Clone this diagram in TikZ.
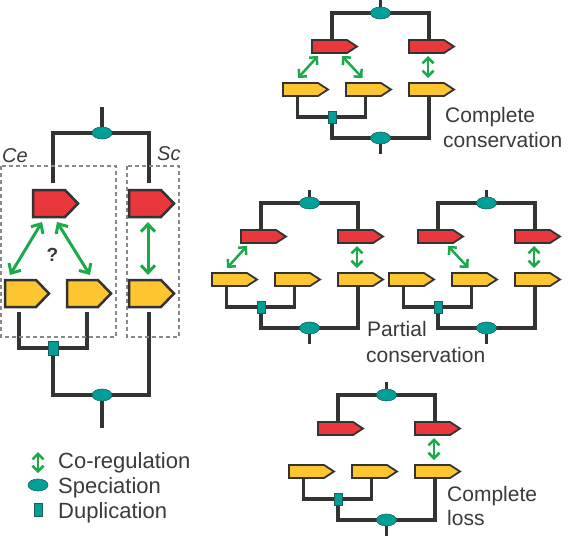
\documentclass[tikz,border=0pt]{standalone}
\usepackage{fontspec}
\setmainfont{Liberation Sans}
\usetikzlibrary{arrows.meta,backgrounds,shapes.geometric}
\definecolor{lc}{HTML}{333333}
\definecolor{redc}{HTML}{E8383C}
\definecolor{yelc}{HTML}{FDC530}
\definecolor{tealc}{HTML}{00A098}
\definecolor{tealdk}{HTML}{1D5E5A}
\definecolor{greenc}{HTML}{1BAA4A}
\definecolor{dashc}{HTML}{888888}
\definecolor{txtc}{HTML}{3A3A3A}
\tikzset{
  tl/.style={draw=lc, line width=3.3pt, line join=miter, line cap=butt},
  tlb/.style={draw=lc, line width=4.6pt, line join=miter, line cap=butt},
  pentline/.style={line width=1.8pt},
  spec/.style={ellipse, fill=tealc, draw=tealdk, line width=0.6pt, minimum width=20pt, minimum height=12pt, inner sep=0pt},
  dup/.style={rectangle, fill=tealc, draw=tealdk, line width=0.6pt, minimum width=8pt, minimum height=12pt, inner sep=0pt},
  garr/.style={draw=greenc, line width=2.5pt, {Straight Barb[length=5.5pt,width=11pt]}-{Straight Barb[length=5.5pt,width=11pt]}},
  garrb/.style={draw=greenc, line width=3pt, {Straight Barb[length=7.5pt,width=14pt]}-{Straight Barb[length=7.5pt,width=14pt]}},
  dbox/.style={draw=dashc, line width=1.3pt, dash pattern=on 4pt off 3pt},
  lab/.style={text=txtc, inner sep=0pt, anchor=base west, font=\fontsize{21}{24}\selectfont},
}
\newcommand\mypent[7]{%
  \node[inner sep=0pt, outer sep=0pt, minimum width=#5pt, minimum height=#6pt, anchor=west] (#1) at ({#3},{#4}) {};
  \filldraw[fill=#2, draw=lc, line join=miter, pentline] (#1.north west) -- ([xshift=-#7pt]#1.north east) -- (#1.east) -- ([xshift=-#7pt]#1.south east) -- (#1.south west) -- cycle;
}
\newcommand\smalltree[3]{%
  \node[spec] (#1s) at ({#2+68.5},{#3}) {};
  \coordinate (#1top) at ({#2+68.5},{#3-13});
  \mypent{#1r1}{redc}{#2}{#3+33.5}{45}{13}{10}
  \mypent{#1r2}{redc}{#2+97}{#3+33.5}{45}{13}{10}
  \mypent{#1y1}{yelc}{#2-29}{#3+76.5}{45}{13}{10}
  \mypent{#1y2}{yelc}{#2+34}{#3+76.5}{45}{13}{10}
  \mypent{#1y3}{yelc}{#2+97}{#3+76.5}{45}{13}{10}
  \node[dup] (#1d) at ({#2+20},{#3+104}) {};
  \node[spec] (#1b) at ({#2+68.5},{#3+125}) {};
  \coordinate (#1bot) at ({#2+68.5},{#3+141});
  \begin{scope}[on background layer]
    \draw[tl] ([xshift=-2.5pt]#1r1.north) |- (#1s.center) -| ([xshift=-2.5pt]#1r2.north);
    \draw[tl] (#1top) -- (#1s.center);
    \draw[tl] ([xshift=-8pt]#1y1.south) |- (#1d.center) -| ([xshift=-3pt]#1y2.south);
    \draw[tl] (#1d.center) |- (#1b.center) -| ([xshift=-2.5pt]#1y3.south);
    \draw[tl] (#1b.center) -- (#1bot);
  \end{scope}
}
\newcommand\arrA[1]{\draw[garr] ([shift={(-16.5,3)}]#1r1.south) -- ([shift={(-7.5,-5)}]#1y1.north);}
\newcommand\arrB[1]{\draw[garr] ([shift={(7.5,3)}]#1r1.south) -- ([shift={(-6,-5)}]#1y2.north);}
\newcommand\arrC[1]{\draw[garr] ([shift={(-3.5,3)}]#1r2.south) -- ([shift={(-3.5,-5)}]#1y3.north);}
\begin{document}
\begin{tikzpicture}[x=1pt,y=-1pt]
\useasboundingbox (0,0) rectangle (570,536);

% dashed boxes
\draw[dbox] (1,166) rectangle (116,337);
\draw[dbox] (127,166) rectangle (179,337);

% big tree
\begin{scope}[pentline/.style={line width=2.5pt}]
\node[spec] (Ls) at (102,133) {};
\coordinate (Ltop) at (102,107);
\mypent{Lr1}{redc}{33}{203.5}{45}{27}{13}
\mypent{Lr2}{redc}{129}{203.5}{45}{27}{13}
\mypent{Ly1}{yelc}{5}{293.5}{44}{27}{13}
\mypent{Ly2}{yelc}{67}{293.5}{44}{27}{13}
\mypent{Ly3}{yelc}{129}{293.5}{45}{27}{13}
\node[dup, minimum width=10pt, minimum height=14pt] (Ld) at (53,348) {};
\node[spec] (Lb) at (102,395) {};
\coordinate (Lbot) at (102,428);
\begin{scope}[on background layer]
  \draw[tlb] ([shift={(-2.5,-7)}]Lr1.north) |- (Ls.center) -| ([shift={(-2.5,-7)}]Lr2.north);
  \draw[tlb] (Ltop) -- (Ls.center);
  \draw[tlb] ([shift={(-8,5)}]Ly1.south) |- (Ld.center) -| ([shift={(-2,5)}]Ly2.south);
  \draw[tlb] (Ld.center) |- (Lb.center) -| ([shift={(-2.5,5)}]Ly3.south);
  \draw[tlb] (Lb.center) -- (Lbot);
\end{scope}
\end{scope}
\draw[garrb] ([shift={(-13.5,5)}]Lr1.south) -- ([shift={(-17,-5)}]Ly1.north);
\draw[garrb] ([shift={(1.5,5)}]Lr1.south) -- ([shift={(1,-5)}]Ly2.north);
\draw[garrb] ([shift={(-3.5,5)}]Lr2.south) -- ([shift={(-3.5,-5)}]Ly3.north);

\node[text=txtc, inner sep=0pt, anchor=base west, font=\fontsize{20}{24}\selectfont\itshape] (ce) at (2,162) {Ce};
\node[text=txtc, inner sep=0pt, anchor=base west, font=\fontsize{20}{24}\selectfont\itshape] (sc) at (157,160) {Sc};
\node[text=txtc, inner sep=0pt, anchor=base, font=\fontsize{19}{22}\selectfont\bfseries] (q) at (52.5,261) {?};

% small trees
\smalltree{T}{312}{13}
\arrA{T}\arrB{T}\arrC{T}
\smalltree{M}{241}{203}
\arrA{M}\arrC{M}
\smalltree{N}{418}{203}
\arrB{N}\arrC{N}
\smalltree{B}{318}{395}
\arrC{B}

% labels
\node[lab] (t1) at (445,122) {Complete};
\node[lab] (t2) at (443,147) {conservation};
\node[lab] (p1) at (367,336) {Partial};
\node[lab] (p2) at (366,362) {conservation};
\node[lab] (b1) at (447,501) {Complete};
\node[lab] (b2) at (447,525) {loss};

% legend
\coordinate (lga) at (38,452);
\coordinate (lgb) at (38,473);
\draw[garr] (lga) -- (lgb);
\node[spec] (lgs) at (38,485) {};
\node[dup, minimum width=8pt, minimum height=13pt] (lgd) at (38,510) {};
\node[lab, font=\fontsize{22}{24}\selectfont] (l1) at (58,468) {Co-regulation};
\node[lab, font=\fontsize{22}{24}\selectfont] (l2) at (58,493) {Speciation};
\node[lab, font=\fontsize{22}{24}\selectfont] (l3) at (58,518) {Duplication};
\end{tikzpicture}
\end{document}
